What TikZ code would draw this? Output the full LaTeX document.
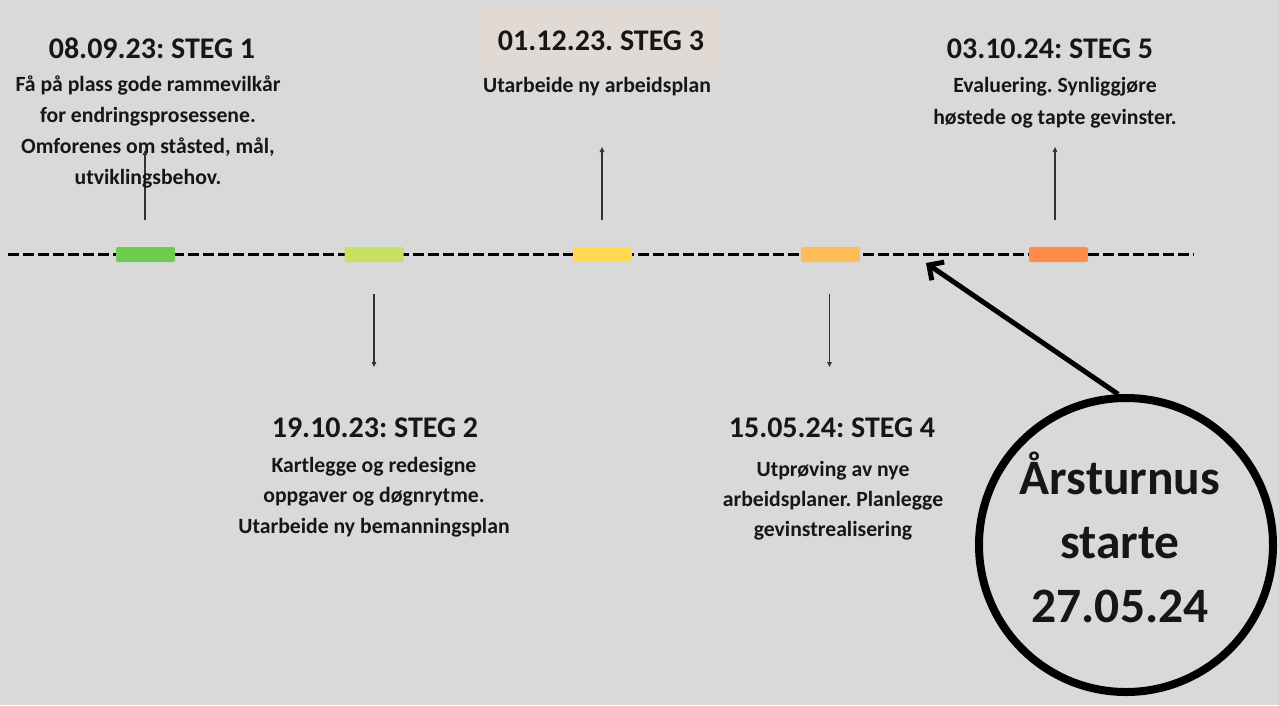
\documentclass[tikz,border=0pt]{standalone}
\usepackage{fontspec}
\setmainfont{Carlito}
\frenchspacing
\usetikzlibrary{arrows.meta}

\definecolor{bg}{RGB}{217,217,217}
\definecolor{ink}{RGB}{22,22,22}
\definecolor{tickgrey}{RGB}{50,50,50}
\definecolor{boxfill}{RGB}{225,218,212}
\definecolor{c1}{RGB}{110,204,78}
\definecolor{c2}{RGB}{197,224,98}
\definecolor{c3}{RGB}{255,217,82}
\definecolor{c4}{RGB}{255,187,86}
\definecolor{c5}{RGB}{255,140,72}

\begin{document}
\begin{tikzpicture}[x=1pt,y=-1pt,
  heading/.style={font=\fontsize{30}{36}\selectfont\bfseries, text=ink, inner sep=0pt, anchor=base},
  body/.style={font=\fontsize{21.7}{31}\selectfont\bfseries, text=ink, align=center, inner sep=0pt, anchor=base},
  bar/.style={rounded corners=2pt, minimum width=59pt, minimum height=15pt, inner sep=0pt},
  timeline/.style={line width=2.2pt, draw=black, dash pattern=on 11pt off 4pt},
  tick/.style={line width=1.3pt, draw=tickgrey, -{Triangle[length=5pt,width=4.5pt]}},
  bigarrow/.style={line width=5pt, draw=black, -{Straight Barb[length=11pt,width=22pt]}},
  ring/.style={circle, draw=black, line width=8pt, minimum size=294pt, inner sep=0pt},
  ringtext/.style={font=\fontsize{49.5}{64}\selectfont\bfseries, text=ink, align=center, inner sep=0pt, anchor=base}
]
% canvas
\fill[bg] (0,0) rectangle (1279,705);
\useasboundingbox (0,0) rectangle (1279,705);

% timeline
\coordinate (tlL) at (8,254.5);
\coordinate (tlR) at (1194,254.5);
\draw[timeline] (tlL) -- (tlR);

% step markers on the timeline
\node[bar, fill=c1] (b1) at (145.5,254.5) {};
\node[bar, fill=c2] (b2) at (374,254.5) {};
\node[bar, fill=c3] (b3) at (602.5,254.5) {};
\node[bar, fill=c4] (b4) at (830.5,254.5) {};
\node[bar, fill=c5] (b5) at (1058.5,254.5) {};

% pointers from the markers to the texts
\coordinate (p1a) at (145,220); \coordinate (p1b) at (145,150);
\coordinate (p2a) at (374,294); \coordinate (p2b) at (374,367);
\coordinate (p3a) at (602,220); \coordinate (p3b) at (602,147);
\coordinate (p4a) at (829.5,294); \coordinate (p4b) at (829.5,367);
\coordinate (p5a) at (1055,220); \coordinate (p5b) at (1055,147);
\draw[tick] (p1a) -- (p1b);
\draw[tick] (p2a) -- (p2b);
\draw[tick] (p3a) -- (p3b);
\draw[tick] (p4a) -- (p4b);
\draw[tick] (p5a) -- (p5b);

% step 1 (multi-line nodes are placed by the baseline of their last line)
\node[heading] (h1) at (152,58) {08.09.23: STEG 1};
\node[body] (t1) at (148,184) {Få på plass gode rammevilkår\\for endringsprosessene.\\Omforenes om ståsted, mål,\\utviklingsbehov.};

% step 2
\node[heading] (h2) at (375,437) {19.10.23: STEG 2};
\node[body, font=\fontsize{21.7}{30.5}\selectfont\bfseries] (t2) at (374,533) {Kartlegge og redesigne\\oppgaver og døgnrytme.\\Utarbeide ny bemanningsplan};

% step 3
\node[font=\fontsize{30}{36}\selectfont\bfseries, text=ink, fill=boxfill, minimum width=242pt, minimum height=71pt, inner sep=0pt] (h3) at (601,40.5) {01.12.23. STEG 3};
\node[body] (t3) at (597,92) {Utarbeide ny arbeidsplan};

% step 4
\node[heading] (h4) at (832,437) {15.05.24: STEG 4};
\node[body, font=\fontsize{21.7}{30}\selectfont\bfseries] (t4) at (833,536) {Utprøving av nye\\arbeidsplaner. Planlegge\\gevinstrealisering};

% step 5
\node[heading] (h5) at (1050,58) {03.10.24: STEG 5};
\node[body, font=\fontsize{21.7}{32}\selectfont\bfseries] (t5) at (1055,124) {Evaluering. Synliggjøre\\høstede og tapte gevinster.};

% start of the yearly rota
\node[ring] (start) at (1126,545) {};
\node[ringtext] (starttxt) at (1120,622) {Årsturnus\\starte\\27.05.24};
\coordinate (startpt) at (926,263);
\draw[bigarrow] (start.93) -- (startpt);
\end{tikzpicture}
\end{document}
